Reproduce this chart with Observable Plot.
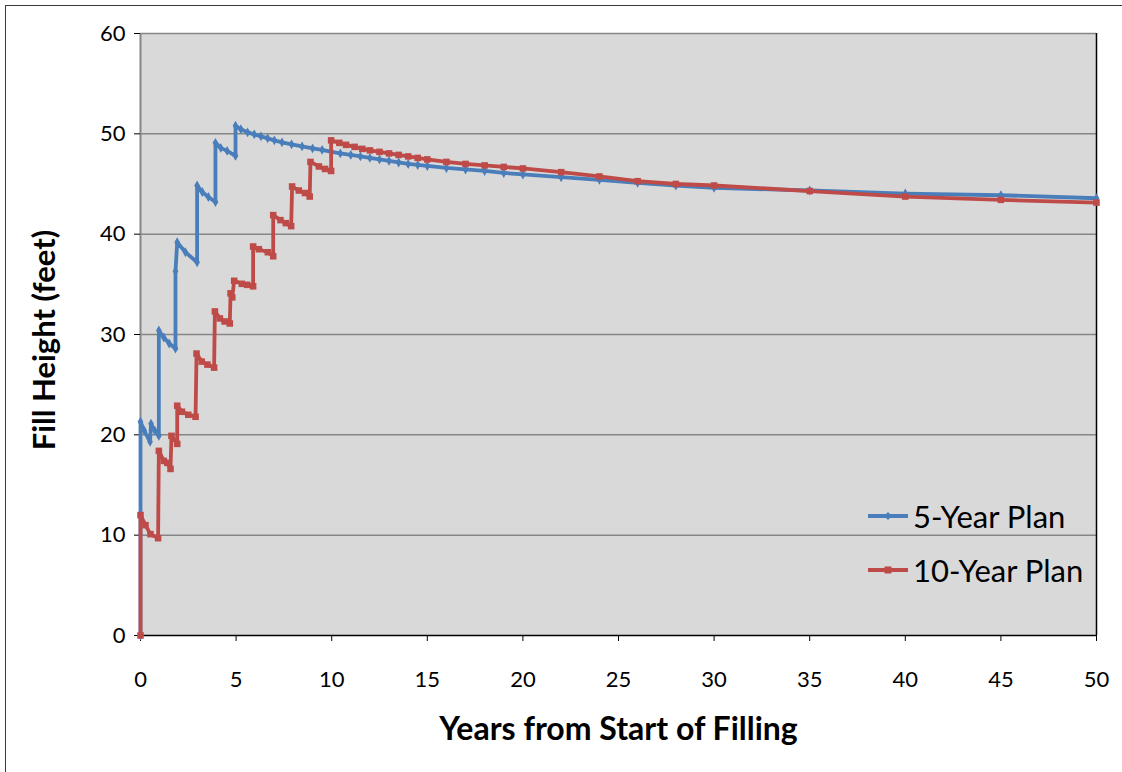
<!DOCTYPE html>
<html>
<head>
<meta charset="utf-8">
<script src="https://cdn.jsdelivr.net/npm/d3@7"></script>
<script src="https://cdn.jsdelivr.net/npm/@observablehq/plot@0.6"></script>
<style>
  html, body { margin: 0; padding: 0; background: #fff; }
  #wrap { position: relative; width: 1122px; height: 772px; font-family: Lato, "Open Sans", sans-serif; overflow: hidden; }
  #border { position: absolute; left: 5px; top: 5px; right: -10px; bottom: -10px; border-left: 1.5px solid #3a3a3a; border-top: 1.5px solid #3a3a3a; pointer-events: none; }
  #legend { position: absolute; left: 866px; top: 489px; }
  .entry { display: flex; align-items: center; height: 54px; font-size: 31px; color: #000; }
  .entry svg { margin-right: 3px; }
  #ytitle { position: absolute; left: 43px; top: 340px; transform: translate(-50%, -50%) rotate(-90deg); font-size: 31px; font-weight: bold; white-space: nowrap; color: #000; }
</style>
</head>
<body>
<div id="wrap">
  <div id="chart"></div>
  <div id="ytitle"></div>
  <div id="border"></div>
  <div id="legend"></div>
</div>
<script>
// ---- data ----
const seriesNames = ["5-Year Plan", "10-Year Plan"];
const seriesColors = ["#4a7ebb", "#be4b48"];

const fiveYearT = [0, 0, 0.2, 0.5, 0.55, 0.75, 0.96, 0.96, 1.22, 1.5, 1.83, 1.83, 1.92, 2.35, 2.96, 2.96, 3.23, 3.55, 3.92, 3.92, 4.2, 4.53, 4.97, 4.97,
  5.25, 5.6, 5.95, 6.3, 6.65, 7, 7.4, 7.9, 8.45, 9, 9.5, 10, 10.45, 11, 11.5, 12, 12.5, 13, 13.5, 14, 14.5, 15,
  16, 17, 18, 19, 20, 22, 24, 26, 28, 30, 35, 40, 45, 50];
const fiveYearH = [0, 21.3, 20.4, 19.3, 21.1, 20.4, 19.9, 30.4, 29.7, 29.1, 28.6, 36.3, 39.2, 38.2, 37.2, 44.85, 44.2, 43.7, 43.2, 49.1, 48.6, 48.3, 47.8, 50.8,
  50.45, 50.15, 49.95, 49.75, 49.55, 49.35, 49.15, 48.95, 48.75, 48.55, 48.4, 48.2, 48.05, 47.9, 47.75, 47.6, 47.45, 47.3, 47.15, 47.0, 46.9, 46.8,
  46.6, 46.45, 46.3, 46.1, 45.95, 45.68, 45.42, 45.12, 44.85, 44.62, 44.35, 44.05, 43.88, 43.58];

const tenYearT = [0, 0, 0.26, 0.52, 0.92, 0.96, 1.22, 1.4, 1.57, 1.62, 1.92, 1.92, 2.17, 2.5, 2.88, 2.93, 3.2, 3.5, 3.85, 3.89, 4.15, 4.4, 4.67,
  4.71, 4.8, 4.9, 5.3, 5.58, 5.89, 5.89, 6.19, 6.66, 6.94, 6.94, 7.32, 7.6, 7.88, 7.93, 8.28, 8.6, 8.85, 8.89, 9.33, 9.65, 9.97, 9.97,
  10.4, 10.75, 11.2, 11.6, 12, 12.5, 13, 13.5, 14, 14.5, 15, 16, 17, 18, 19, 20, 22, 24, 26, 28, 30, 35, 40, 45, 50];
const tenYearH = [0, 12.0, 11.0, 10.1, 9.7, 18.4, 17.4, 17.2, 16.6, 19.9, 19.1, 22.9, 22.3, 22.0, 21.8, 28.1, 27.3, 27.0, 26.7, 32.3, 31.6, 31.3, 31.1,
  34.1, 33.7, 35.35, 35.05, 34.95, 34.8, 38.77, 38.5, 38.2, 37.8, 41.9, 41.4, 41.1, 40.8, 44.75, 44.35, 44.1, 43.75, 47.2, 46.75, 46.5, 46.3, 49.35,
  49.1, 48.9, 48.7, 48.5, 48.35, 48.2, 48.05, 47.9, 47.75, 47.6, 47.45, 47.2, 47.0, 46.85, 46.7, 46.55, 46.18, 45.75, 45.28, 45.0, 44.85, 44.3, 43.75, 43.42, 43.15];

const xTicks = [0, 5, 10, 15, 20, 25, 30, 35, 40, 45, 50];
const yTicks = [0, 10, 20, 30, 40, 50, 60];
const xTitle = "Years from Start of Filling";
const yTitle = "Fill Height (feet)";

// ---- build tables ----
const five = fiveYearT.map((t, i) => ({t, h: fiveYearH[i]}));
const ten = tenYearT.map((t, i) => ({t, h: tenYearH[i]}));

const chart = Plot.plot({
  width: 1122,
  height: 772,
  marginLeft: 140,
  marginRight: 26,
  marginTop: 33,
  marginBottom: 137,
  x: {domain: [0, 50]},
  y: {domain: [0, 60]},
  style: {fontFamily: "Lato, 'Open Sans', sans-serif", fontSize: "22px", color: "#000", background: "transparent", overflow: "visible"},
  marks: [
    Plot.frame({fill: "#d9d9d9", stroke: "none"}),
    Plot.ruleY(yTicks.filter(d => d > 0), {stroke: "#868686", strokeWidth: 1.5}),
    Plot.ruleX([0], {stroke: "#868686", strokeWidth: 2}),
    Plot.ruleX([50], {stroke: "#000", strokeWidth: 1.5}),
    Plot.ruleY([0], {stroke: "#000", strokeWidth: 1.5}),
    Plot.axisY({ticks: yTicks, tickSize: 6, tickPadding: 9, fontSize: 22, label: null, stroke: "#000"}),
    Plot.axisX({ticks: xTicks, tickSize: 6, tickPadding: 30, fontSize: 22, label: null, stroke: "#000"}),
    Plot.line(five, {x: "t", y: "h", stroke: seriesColors[0], strokeWidth: 3.8, strokeLinejoin: "round"}),
    Plot.dot(five, {x: "t", y: "h", symbol: "diamond", r: 3, fill: seriesColors[0]}),
    Plot.line(ten, {x: "t", y: "h", stroke: seriesColors[1], strokeWidth: 3.8, strokeLinejoin: "round"}),
    Plot.dot(ten, {x: "t", y: "h", symbol: "square", r: 3.7, fill: seriesColors[1]}),
    Plot.text([xTitle], {frameAnchor: "bottom", dy: 104, fontSize: 32, fontWeight: "bold"})
  ]
});
document.getElementById("chart").appendChild(chart);
document.getElementById("ytitle").textContent = yTitle;

// ---- legend ----
const legend = document.getElementById("legend");
seriesNames.forEach((name, i) => {
  const row = document.createElement("div");
  row.className = "entry";
  const marker = i === 0
    ? `<path d="M22,6 L26,10 L22,14 L18,10 Z" fill="${seriesColors[i]}"/>`
    : `<rect x="18.5" y="6.5" width="7" height="7" fill="${seriesColors[i]}"/>`;
  row.innerHTML = `<svg width="44" height="20"><line x1="2" x2="42" y1="10" y2="10" stroke="${seriesColors[i]}" stroke-width="3.8"/>${marker}</svg><span>${name}</span>`;
  legend.appendChild(row);
});
</script>
</body>
</html>
